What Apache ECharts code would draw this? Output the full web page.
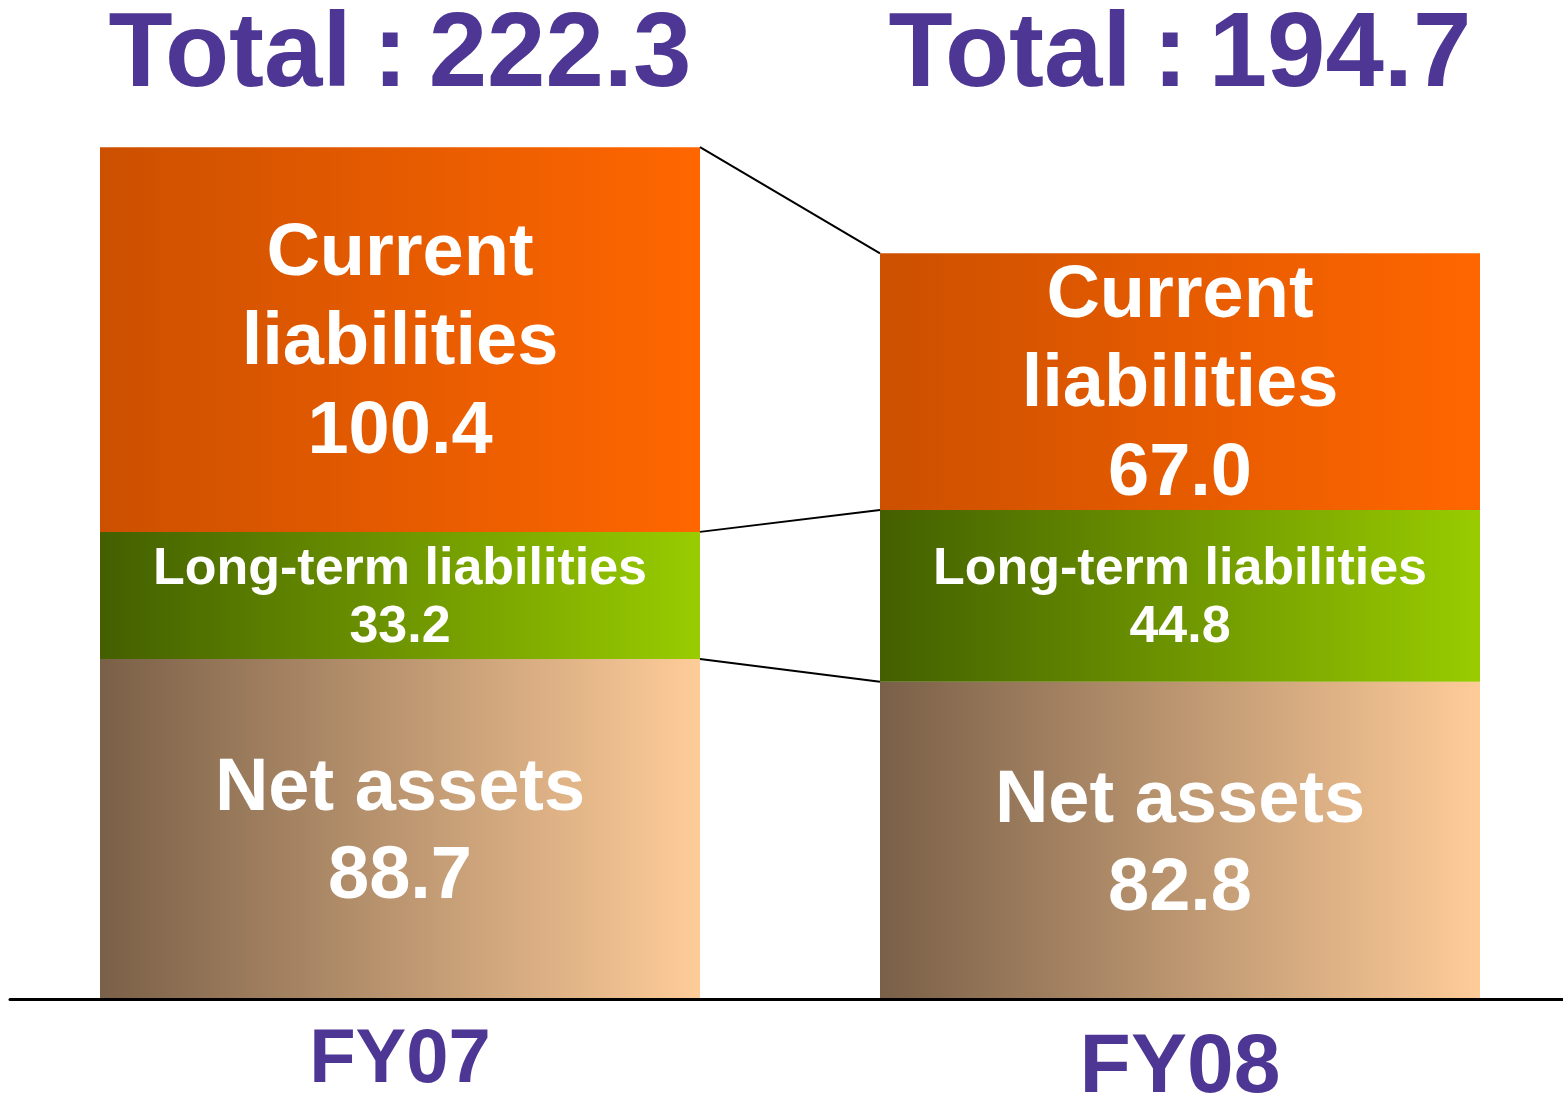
<!DOCTYPE html>
<html lang="en">
<head>
  <meta charset="UTF-8">
  <title>Liabilities and net assets</title>
  <style type="text/css">
    html, body { margin: 0; padding: 0; background: #fff; }
    #main { width: 1563px; height: 1111px; }
  </style>
</head>
<body>
  <div id="main"></div>
</body>
<script type="text/javascript" src="https://cdn.jsdelivr.net/npm/echarts@6/dist/echarts.min.js"></script>
<script type="text/javascript">
  // data
  var years = ['FY07', 'FY08'];
  var totals = [222.3, 194.7];
  var netAssets = [88.7, 82.8];
  var longTerm = [33.2, 44.8];
  var current = [100.4, 67.0];

  var FONT = '"Liberation Sans", Arial, sans-serif';
  var PURPLE = '#4E3794';
  var HALF_BAR = 300;

  function grad(left, right) {
    return new echarts.graphic.LinearGradient(0, 0, 1, 0, [
      { offset: 0, color: left },
      { offset: 1, color: right }
    ]);
  }

  // cumulative tops for the connector lines
  var links = [];
  for (var k = 0; k < 3; k++) {
    var v = [];
    for (var i = 0; i < 2; i++) {
      var s = netAssets[i];
      if (k > 0) s += longTerm[i];
      if (k > 1) s += current[i];
      v.push(+s.toFixed(1));
    }
    links.push([0, v[0], v[1]]);
  }

  var myChart = echarts.init(document.getElementById('main'));
  var option = {
    animation: false,
    grid: { left: 10, right: -7, top: 41, bottom: 112, outerBoundsMode: 'none', containLabel: false },
    xAxis: [{
      type: 'category',
      data: years,
      z: 5,
      axisLine: { lineStyle: { color: '#000', width: 3 } },
      axisTick: { show: false },
      axisLabel: {
        margin: 62,
        verticalAlign: 'middle',
        formatter: function (val, idx) {
          return idx === 0 ? '{a|' + val + '}' : '{b|' + val + '}';
        },
        rich: {
          a: {
            fontFamily: FONT, fontWeight: 'bold', fontSize: 76, color: PURPLE,
            textShadowColor: '#A8A8A8', textShadowOffsetX: 4, textShadowOffsetY: 4
          },
          b: {
            fontFamily: FONT, fontWeight: 'bold', fontSize: 84, color: PURPLE,
            padding: [16, 0, 0, 0],
            textShadowColor: '#A8A8A8', textShadowOffsetX: 4, textShadowOffsetY: 4
          }
        }
      }
    }, {
      type: 'category',
      position: 'top',
      data: years,
      axisLine: { show: false },
      axisTick: { show: false },
      axisLabel: {
        margin: -16,
        verticalAlign: 'middle',
        fontFamily: FONT,
        fontWeight: 'bold',
        fontSize: 105,
        color: PURPLE,
        textShadowColor: '#A0A0A0',
        textShadowOffsetX: 4,
        textShadowOffsetY: 4,
        formatter: function (val, idx) {
          return 'Total\u2009:\u2009' + totals[idx].toFixed(1);
        }
      }
    }],
    yAxis: {
      type: 'value',
      min: 0,
      max: 250,
      show: false,
      splitLine: { show: false }
    },
    series: [{
      name: 'Net assets',
      type: 'bar',
      stack: 'bs',
      barWidth: 600,
      data: netAssets,
      itemStyle: { color: grad('#7A6048', '#FECC99') },
      label: {
        show: true,
        position: 'inside',
        offset: [0, 5],
        color: '#fff',
        fontFamily: FONT,
        fontWeight: 'bold',
        fontSize: 74,
        lineHeight: 88,
        formatter: function (p) { return 'Net assets\n' + p.value.toFixed(1); }
      }
    }, {
      name: 'Long-term liabilities',
      type: 'bar',
      stack: 'bs',
      barWidth: 600,
      data: longTerm,
      itemStyle: { color: grad('#435F00', '#99CC00') },
      label: {
        show: true,
        position: 'inside',
        offset: [0, 3],
        color: '#fff',
        fontFamily: FONT,
        fontWeight: 'bold',
        fontSize: 52,
        lineHeight: 58,
        formatter: function (p) { return 'Long-term liabilities\n' + p.value.toFixed(1); }
      }
    }, {
      name: 'Current liabilities',
      type: 'bar',
      stack: 'bs',
      barWidth: 600,
      data: current,
      itemStyle: { color: grad('#CC5000', '#FF6600') },
      label: {
        show: true,
        position: 'inside',
        offset: [0, 4],
        color: '#fff',
        fontFamily: FONT,
        fontWeight: 'bold',
        fontSize: 74,
        lineHeight: 89,
        formatter: function (p) { return 'Current\nliabilities\n' + p.value.toFixed(1); }
      }
    }, {
      type: 'custom',
      data: links,
      encode: { x: 0, y: 1 },
      z: 4,
      renderItem: function (params, api) {
        var p0 = api.coord([0, api.value(1)]);
        var p1 = api.coord([1, api.value(2)]);
        return {
          type: 'line',
          shape: { x1: p0[0] + HALF_BAR, y1: p0[1], x2: p1[0] - HALF_BAR, y2: p1[1] },
          style: { stroke: '#000', lineWidth: 2 }
        };
      }
    }]
  };
  myChart.setOption(option);
</script>
</html>
